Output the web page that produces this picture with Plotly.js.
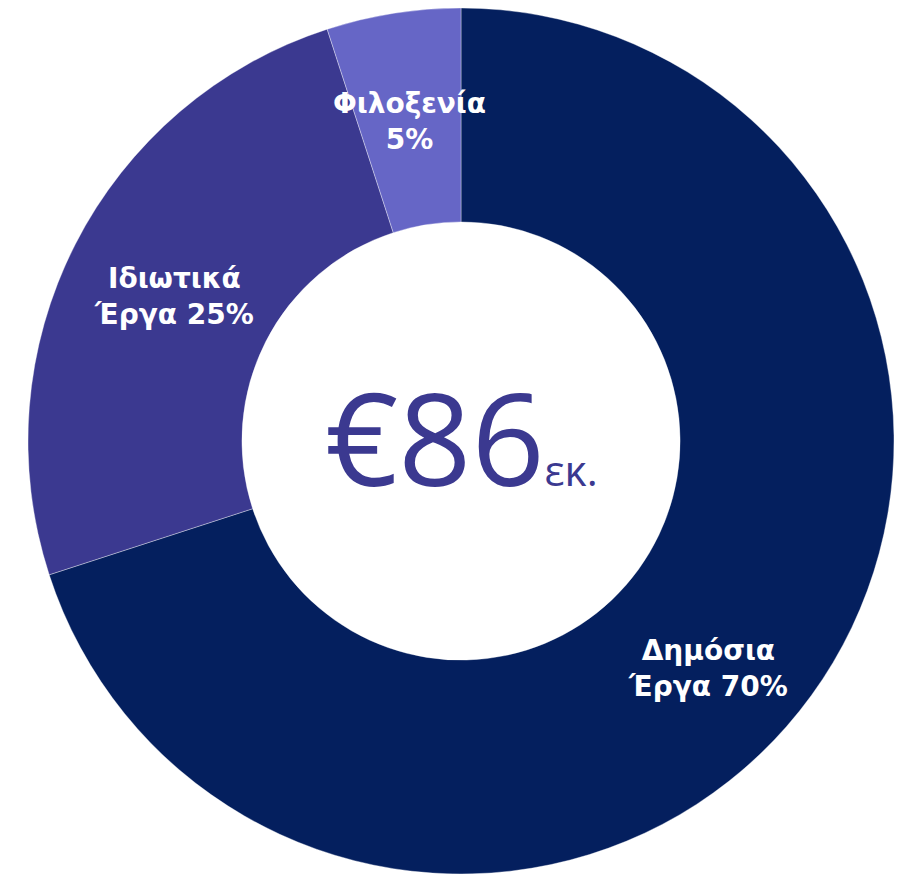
<!DOCTYPE html>
<html>
<head>
<meta charset="utf-8">
<script src="https://cdn.plot.ly/plotly-3.0.1.min.js"></script>
<style>
  html, body { margin: 0; padding: 0; background: #fff; }
  #chart { width: 898px; height: 876px; }
</style>
</head>
<body>
<div id="chart"></div>
<script>
// slices, clockwise from 12 o'clock
const labels = ["Δημόσια<br>Έργα", "Ιδιωτικά<br>Έργα", "Φιλοξενία<br>"];
const values = [70, 25, 5];
const colors = ["#041f5e", "#3b3990", "#6666c6"];
const totalText = "€86";
const unitText = "εκ.";

const W = 898, H = 876;
// donut geometry in px
const cx = 461, cy = 441, rOut = 433, hole = 0.506;
// the big slice's label sits a bit lower/left than the mid-angle point
const labelShift = [[-17, -36], [4, -4], [0, -3]];

let domain = {
    x: [(cx - rOut) / W, (cx + rOut) / W],
    y: [(H - cy - rOut) / H, (H - cy + rOut) / H],
};

let pie = {
    type: "pie",
    labels: labels, values: values,
    sort: false, direction: "clockwise", rotation: 0,
    hole: hole, domain: domain,
    marker: {colors: colors, line: {color: "rgba(255,255,255,0.45)", width: 0.8}},
    textinfo: "none", hoverinfo: "label+percent",
    showlegend: false,
};

// slice labels placed at the mid-angle of each slice, halfway through the ring
let total = values.reduce((a, b) => a + b, 0);
let rMid = rOut * (1 + hole) / 2;
let cum = 0;
let annotations = values.map(function(v, i) {
    let mid = (cum + v / 2) / total * 2 * Math.PI;
    cum += v;
    let pct = Math.round(v / total * 100) + "%";
    let text = labels[i].endsWith("<br>") ? labels[i] + pct : labels[i] + " " + pct;
    return {
        x: (cx + rMid * Math.sin(mid)) / W,
        y: (H - cy + rMid * Math.cos(mid)) / H,
        xref: "paper", yref: "paper", showarrow: false,
        xanchor: "center", yanchor: "middle",
        xshift: labelShift[i][0], yshift: labelShift[i][1],
        text: text,
        font: {family: "DejaVu Sans", size: 28, color: "#ffffff", weight: "bold"},
    };
});

annotations.push({
    x: cx / W, y: (H - cy) / H,
    xref: "paper", yref: "paper", showarrow: false,
    xanchor: "center", yanchor: "middle", yshift: 5,
    text: totalText + "<span style=\"font-size:42px\">" + unitText + "</span>",
    font: {family: "Open Sans", size: 128, color: "#3b3990"},
});

let layout = {
    width: W, height: H,
    margin: {l: 0, r: 0, t: 0, b: 0},
    paper_bgcolor: "#ffffff",
    annotations: annotations,
};

Plotly.newPlot("chart", [pie], layout, {displayModeBar: false, staticPlot: true});
</script>
</body>
</html>
